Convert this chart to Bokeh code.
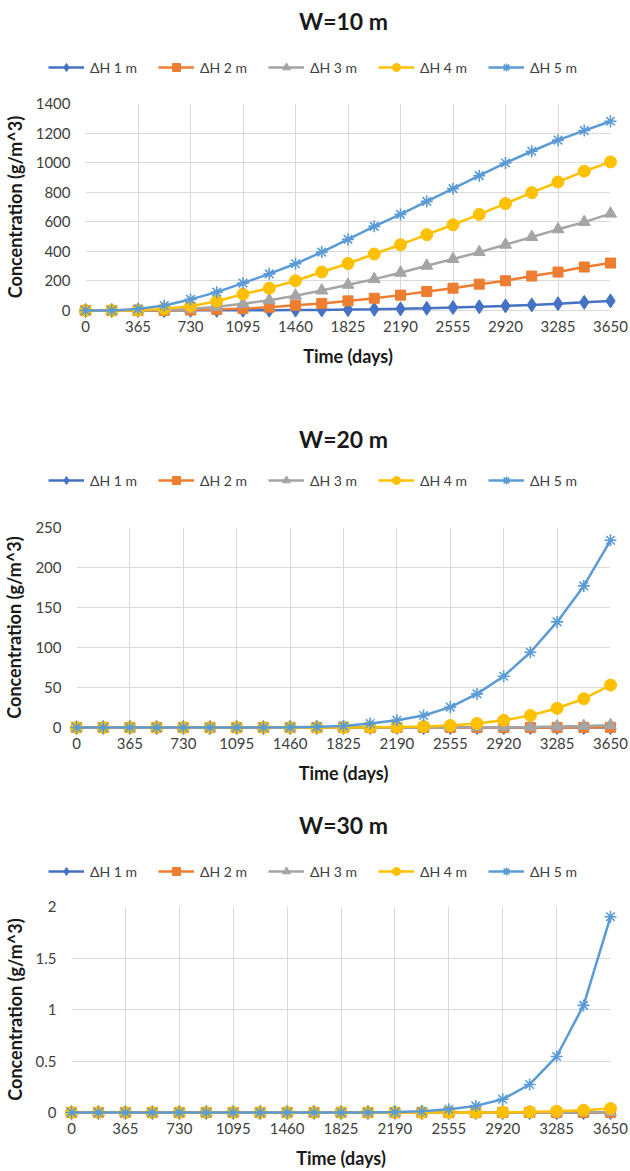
import numpy as np
from bokeh.plotting import figure
from bokeh.layouts import column
from bokeh.models import Legend, LegendItem, FixedTicker, Range1d, Label
from bokeh.embed import file_html
from bokeh.resources import INLINE

days = [0, 182.5, 365, 547.5, 730, 912.5, 1095, 1277.5, 1460, 1642.5, 1825,
        2007.5, 2190, 2372.5, 2555, 2737.5, 2920, 3102.5, 3285, 3467.5, 3650]
x_ticks = [0, 365, 730, 1095, 1460, 1825, 2190, 2555, 2920, 3285, 3650]
series_labels = ["ΔH 1 m", "ΔH 2 m", "ΔH 3 m", "ΔH 4 m", "ΔH 5 m"]

# W = 10 m
w10_h1 = [0, 0, 0, 0, 1, 1, 2, 2, 3, 4, 6, 8, 11, 15, 20, 25, 31, 38, 46, 55, 65]
w10_h2 = [0, 0, 0, 1, 3, 7, 13, 22, 35, 48, 65, 83, 104, 129, 151, 178, 201, 233, 260, 294, 321]
w10_h3 = [0, 0, 1, 3, 10, 25, 45, 70, 100, 135, 174, 212, 255, 303, 348, 395, 445, 497, 549, 598, 655]
w10_h4 = [0, 0, 2, 11, 29, 63, 111, 151, 201, 260, 318, 382, 445, 513, 580, 650, 723, 797, 869, 942, 1005]
w10_h5 = [0, 0, 11, 34, 75, 124, 185, 248, 316, 395, 481, 569, 650, 738, 824, 912, 998, 1077, 1152, 1217, 1280]

# W = 20 m
w20_h1 = [0, 0, 0, 0, 0, 0, 0, 0, 0, 0, 0, 0, 0, 0, 0, 0, 0, 0, 0, 0, 0]
w20_h2 = [0, 0, 0, 0, 0, 0, 0, 0, 0, 0, 0, 0, 0, 0, 0, 0, 0, 0.02, 0.05, 0.1, 0.2]
w20_h3 = [0, 0, 0, 0, 0, 0, 0, 0, 0, 0, 0, 0, 0, 0, 0.1, 0.2, 0.4, 0.7, 1.2, 1.9, 2.9]
w20_h4 = [0, 0, 0, 0, 0, 0, 0, 0, 0, 0, 0.05, 0.2, 0.5, 1.2, 2.5, 5, 9, 15, 24, 36, 53]
w20_h5 = [0, 0, 0, 0, 0, 0, 0, 0, 0.2, 0.8, 2, 5, 9, 15, 25.5, 42, 64, 94, 132, 177, 234]

# W = 30 m
w30_h1 = [0, 0, 0, 0, 0, 0, 0, 0, 0, 0, 0, 0, 0, 0, 0, 0, 0, 0, 0, 0, 0]
w30_h2 = [0, 0, 0, 0, 0, 0, 0, 0, 0, 0, 0, 0, 0, 0, 0, 0, 0, 0, 0, 0, 0]
w30_h3 = [0, 0, 0, 0, 0, 0, 0, 0, 0, 0, 0, 0, 0, 0, 0, 0, 0, 0.0005, 0.001, 0.002, 0.003]
w30_h4 = [0, 0, 0, 0, 0, 0, 0, 0, 0, 0, 0, 0, 0, 0, 0, 0.001, 0.003, 0.006, 0.012, 0.022, 0.038]
w30_h5 = [0, 0, 0, 0, 0, 0, 0, 0, 0, 0, 0, 0, 0.004, 0.012, 0.032, 0.064, 0.128, 0.272, 0.544, 1.04, 1.9]

y10_ticks = [0, 200, 400, 600, 800, 1000, 1200, 1400]
y20_ticks = [0, 50, 100, 150, 200, 250]
y30_ticks = [0, 0.5, 1, 1.5, 2]
y30_labels = {0: "0", 0.5: "0.5", 1: "1", 1.5: "1.5", 2: "2"}

colors = ["#4472C4", "#ED7D31", "#A5A5A5", "#FFC000", "#5B9BD5"]
markers = ["diamond", "square", "triangle", "circle", "asterisk"]
msizes = [14, 10, 12, 12, 12]

FONT = "Lato"
GRID = "#D9D9D9"
W = 630


def add_series(p, x, y, c, m, s):
    lr = p.line(x, y, line_color=c, line_width=2.5, level="overlay")
    if m == "asterisk":
        mr = p.scatter(x, y, marker=m, size=s, line_color=c, line_width=1.6,
                       level="overlay")
    else:
        mr = p.scatter(x, y, marker=m, size=s, fill_color=c, line_color=c,
                       line_width=1, level="overlay")
    return lr, mr


def header(title, height, title_from_top, legend_from_top, legend_x):
    h = figure(width=W, height=height, output_backend="svg", toolbar_location=None,
               x_range=Range1d(0, W), y_range=Range1d(0, height),
               x_axis_location=None, y_axis_location=None, title=None,
               min_border=0, min_border_left=0, min_border_right=0,
               min_border_top=0, min_border_bottom=0)
    h.outline_line_color = None
    h.grid.visible = False
    h.add_layout(Label(x=343, y=height - title_from_top, text=title,
                       text_align="center", text_baseline="middle",
                       text_font=FONT, text_font_size="23px", text_font_style="bold",
                       text_color="#1a1a1a"))
    items = []
    nan = np.array([np.nan])
    for lab, c, m, s in zip(series_labels, colors, markers, msizes):
        lr, mr = add_series(h, nan, nan, c, m, s)
        items.append(LegendItem(label=lab, renderers=[lr, mr]))
    leg = Legend(items=items, orientation="horizontal",
                 location=(legend_x, height - legend_from_top - 14),
                 glyph_width=36, glyph_height=20, label_standoff=6,
                 label_width=48, spacing=20, padding=4, margin=0,
                 label_text_font=FONT, label_text_font_size="14px",
                 label_text_color="#404040",
                 border_line_color=None, background_fill_alpha=0)
    h.add_layout(leg, "center")
    return h


def panel(ys, ymax, yticks, ylabels, height, bottom, left):
    p = figure(width=W, height=height, output_backend="svg", toolbar_location=None,
               x_range=Range1d(0, 3650), y_range=Range1d(0, ymax), title=None,
               min_border_left=left, min_border_right=20,
               min_border_top=10, min_border_bottom=bottom)
    p.outline_line_color = None

    for y, c, m, s in zip(ys, colors, markers, msizes):
        add_series(p, days, y, c, m, s)

    p.xaxis.ticker = FixedTicker(ticks=x_ticks)
    p.yaxis.ticker = FixedTicker(ticks=yticks)
    if ylabels:
        p.yaxis.major_label_overrides = ylabels

    p.xgrid.grid_line_color = GRID
    p.ygrid.grid_line_color = GRID
    p.xgrid.ticker = FixedTicker(ticks=x_ticks)
    p.ygrid.ticker = FixedTicker(ticks=yticks)

    for ax in (p.xaxis, p.yaxis):
        ax.major_tick_out = 0
        ax.major_tick_in = 0
        ax.minor_tick_out = 0
        ax.minor_tick_in = 0
        ax.major_label_text_font = FONT
        ax.major_label_text_font_size = "15px"
        ax.major_label_text_color = "#404040"
        ax.axis_label_text_font = FONT
        ax.axis_label_text_font_size = "18px"
        ax.axis_label_text_font_style = "bold"
        ax.axis_label_text_color = "#1a1a1a"
    p.yaxis.axis_line_color = None
    p.xaxis.axis_line_color = GRID
    p.yaxis.major_label_standoff = 15
    p.yaxis.axis_label_standoff = 7
    p.xaxis.major_label_standoff = 10
    p.xaxis.axis_label_standoff = 10
    p.xaxis.axis_label = "Time (days)"
    p.yaxis.axis_label = "Concentration (g/m^3)"
    return p


h1 = header("W=10 m", 93, 20, 63, 48)
p1 = panel([w10_h1, w10_h2, w10_h3, w10_h4, w10_h5], 1400, y10_ticks, None, 302, 85, 82)
h2 = header("W=20 m", 122, 43, 81, 48)
p2 = panel([w20_h1, w20_h2, w20_h3, w20_h4, w20_h5], 250, y20_ticks, None, 273, 63, 73)
h3 = header("W=30 m", 106, 34, 77, 48)
p3 = panel([w30_h1, w30_h2, w30_h3, w30_h4, w30_h5], 2, y30_ticks, y30_labels, 275, 58, 69)

# each figure in its own column so that plot frames are not aligned to each other
layout = column([column(f) for f in (h1, p1, h2, p2, h3, p3)], spacing=0)
open("out.html", "w").write(file_html(layout, INLINE))
